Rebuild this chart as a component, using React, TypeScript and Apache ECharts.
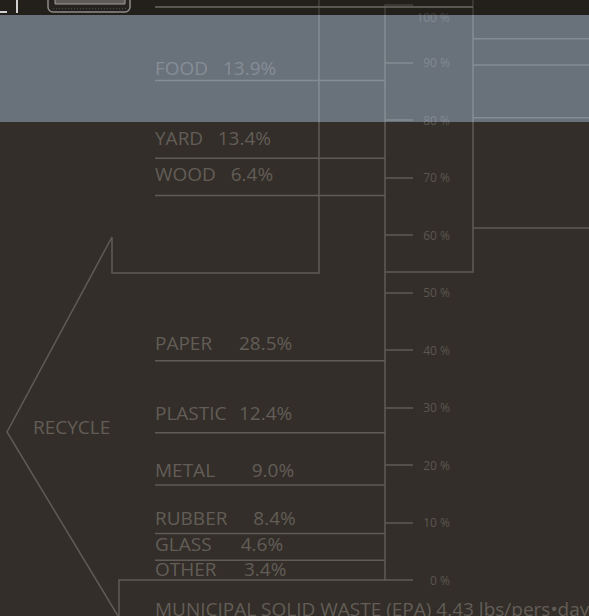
import React, { useEffect, useRef } from "react";
import * as echarts from "echarts";

// ---- data ----
const categories = ["OTHER", "GLASS", "RUBBER", "METAL", "PLASTIC", "PAPER", "WOOD", "YARD", "FOOD"];
const shares = [3.4, 4.6, 8.4, 9.0, 12.4, 28.5, 6.4, 13.4, 13.9];
const axisMin = 0;
const axisMax = 100;
const axisStep = 10;
const tickSuffix = " %";
const titleText = "MUNICIPAL SOLID WASTE (EPA) 4.43 lbs/pers\u2022day";
const groupLabel = "RECYCLE";
// decorative frame levels (percent on the stack scale)
const frameRightLevels = [93.3, 88.8, 79.7, 60.7];

// ---- layout / style ----
const valueX = [244, 240.7, 253.3, 251.7, 239, 239, 230.7, 217.7, 223];
const labelGap = [4.1, 9.4, 8.7, 8.0, 12.8, 10.9, 14.3, 13.4, 5.7];
const BG = "#332e29";
const LINE = "#605b55";
const TEXT = "#625d57";
const AXIS_TEXT = "#5b5650";
const FONT = '19px "Open Sans"';

const bottoms: number[] = [];
shares.reduce((acc, v, i) => {
  bottoms[i] = acc;
  return acc + v;
}, 0);

export default function App() {
  const ref = useRef<HTMLDivElement>(null);
  useEffect(() => {
    document.body.style.margin = "0";
    document.body.style.background = BG;
    const chart = echarts.init(ref.current!, null, { renderer: "svg" });
    const lineStyle = { stroke: LINE, lineWidth: 1.5, fill: "none" };
    const option: any = {
      animation: false,
      backgroundColor: BG,
      grid: [
        { left: 385, top: 5, width: 100, height: 575 },
        { left: 0, top: 0, width: 589, height: 580 },
      ],
      xAxis: [
        { gridIndex: 0, type: "value", show: false, min: 0, max: 1 },
        { gridIndex: 1, type: "value", show: false, min: 0, max: 589 },
      ],
      yAxis: [
        {
          gridIndex: 0,
          type: "value",
          min: axisMin,
          max: axisMax,
          interval: axisStep,
          position: "left",
          axisLine: { show: true, lineStyle: { color: LINE, width: 1.5 } },
          axisTick: { show: true, inside: true, length: 28, lineStyle: { color: LINE, width: 1.5 } },
          splitLine: { show: false },
          axisLabel: {
            inside: true,
            margin: 65,
            align: "right",
            color: AXIS_TEXT,
            fontSize: 12,
            fontFamily: "Open Sans",
            showMaxLabel: true,
            showMinLabel: true,
            formatter: (v: number) => (v === axisMax ? "{top|" + v + tickSuffix + "}" : v + tickSuffix),
            rich: {
              top: { padding: [24, 0, 0, 0], color: AXIS_TEXT, fontSize: 12, fontFamily: "Open Sans" },
            },
          },
        },
        { gridIndex: 1, type: "value", show: false, min: axisMin, max: axisMax },
      ],
      series: [
        {
          type: "custom",
          xAxisIndex: 1,
          yAxisIndex: 1,
          clip: false,
          data: categories.map((c, i) => [0, bottoms[i], shares[i]]),
          renderItem: (params: any, api: any) => {
            const i = params.dataIndex;
            const y = api.coord([0, api.value(1)])[1];
            const ty = y - labelGap[i] - 7;
            const ts = { fill: TEXT, font: FONT, textAlign: "left", align: "left", textVerticalAlign: "middle", verticalAlign: "middle" };
            return {
              type: "group",
              children: [
                { type: "line", shape: { x1: 155, y1: y, x2: 385, y2: y }, style: { stroke: LINE, lineWidth: 1.5 } },
                { type: "text", x: 155, y: ty, style: { ...ts, text: categories[i] } },
                { type: "text", x: valueX[i], y: ty, style: { ...ts, text: Number(api.value(2)).toFixed(1) + "%" } },
              ],
            };
          },
        },
        {
          type: "custom",
          xAxisIndex: 1,
          yAxisIndex: 1,
          clip: false,
          data: frameRightLevels.map((v) => [473, v]),
          renderItem: (params: any, api: any) => {
            const p = api.coord([api.value(0), api.value(1)]);
            return { type: "line", shape: { x1: p[0], y1: p[1], x2: 589, y2: p[1] }, style: { stroke: LINE, lineWidth: 1.5 } };
          },
        },
      ],
      graphic: [
        { type: "polyline", shape: { points: [[319, 0], [319, 273], [112, 273], [112, 237], [7, 432], [118, 616]] }, style: lineStyle, z: 1 },
        { type: "polyline", shape: { points: [[473, 0], [473, 272], [385, 272]] }, style: lineStyle, z: 1 },
        { type: "polyline", shape: { points: [[155, 580], [119, 580], [119, 616]] }, style: lineStyle, z: 1 },
        { type: "text", x: 33, y: 426.5, style: { text: groupLabel, fill: TEXT, font: FONT, textVerticalAlign: "middle", verticalAlign: "middle" }, z: 1 },
        { type: "text", x: 155, y: 608.7, style: { text: titleText, fill: TEXT, font: FONT, textVerticalAlign: "middle", verticalAlign: "middle" }, z: 1 },
        // light band overlay
        { type: "rect", shape: { x: 0, y: 15, width: 589, height: 107 }, style: { fill: "rgba(188,216,246,0.4)" }, z: 100 },
        // dark top strip
        { type: "rect", shape: { x: 0, y: 0, width: 589, height: 15 }, style: { fill: "rgba(0,0,0,0.3)" }, z: 100 },
        { type: "line", shape: { x1: 155, y1: 7, x2: 473, y2: 7 }, style: { stroke: "#6d6863", lineWidth: 1.5 }, z: 101 },
        { type: "rect", shape: { x: 48, y: -6, width: 82, height: 18, r: 5 }, style: { fill: "#262220", stroke: "#8e8b88", lineWidth: 1.5 }, z: 102 },
        { type: "rect", shape: { x: 55, y: -3, width: 70, height: 7 }, style: { fill: "#5d5a57", stroke: "#a09d9a", lineWidth: 1 }, z: 103 },
        { type: "line", shape: { x1: 53, y1: 8.5, x2: 126, y2: 8.5 }, style: { stroke: "#4a4744", lineWidth: 1, lineDash: [1, 2] }, z: 103 },
        { type: "polyline", shape: { points: [[0, 12], [7, 12]] }, style: { stroke: "#d0d0d0", lineWidth: 2, fill: "none" }, z: 102 },
        { type: "line", shape: { x1: 17, y1: 0, x2: 17, y2: 13 }, style: { stroke: "#d0d0d0", lineWidth: 2 }, z: 102 },
      ],
    };
    chart.setOption(option);
    return () => chart.dispose();
  }, []);
  return (
    <div
      ref={ref}
      style={{ position: "fixed", left: 0, top: 0, width: 589, height: 616, background: BG }}
    />
  );
}
